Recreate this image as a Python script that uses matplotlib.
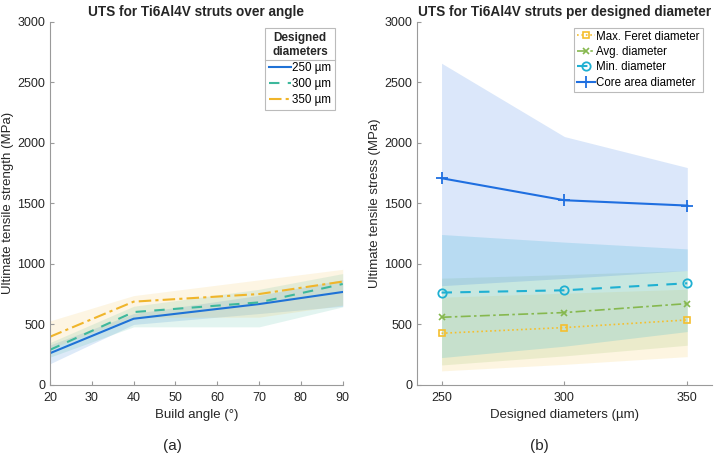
import matplotlib
matplotlib.use("Agg")
import matplotlib.pyplot as plt
from matplotlib.lines import Line2D

plt.rcParams['font.family'] = ['Liberation Sans', 'DejaVu Sans']
plt.rcParams['font.size'] = 9

# (a) UTS over build angle
angles = [20, 40, 70, 90]
d250_mean = [262, 547, 668, 768]
d250_low = [175, 500, 590, 650]
d250_high = [330, 590, 740, 870]
d300_mean = [290, 602, 682, 834]
d300_low = [230, 480, 480, 645]
d300_high = [350, 650, 790, 920]
d350_mean = [398, 688, 751, 854]
d350_low = [300, 560, 560, 660]
d350_high = [529, 738, 868, 955]

# (b) UTS per designed diameter
diameters = [250, 300, 350]
feret_mean = [427, 474, 537]
feret_low = [116, 170, 234]
feret_high = [725, 758, 791]
avg_mean = [559, 598, 672]
avg_low = [165, 240, 328]
avg_high = [882, 912, 945]
min_mean = [763, 782, 840]
min_low = [226, 320, 441]
min_high = [1243, 1180, 1124]
core_mean = [1708, 1526, 1482]
core_low = [820, 880, 945]
core_high = [2658, 2052, 1796]

txt = '#262626'
spine_c = '#9a9a9a'

fig = plt.figure(figsize=(7.14, 4.55), dpi=100)
ax1 = fig.add_axes([0.070, 0.154, 0.410, 0.798])
ax2 = fig.add_axes([0.584, 0.154, 0.413, 0.798])


def style(ax):
    for s in ['top', 'right']:
        ax.spines[s].set_visible(False)
    for s in ['left', 'bottom']:
        ax.spines[s].set_color(spine_c)
    ax.tick_params(direction='in', length=3, color=spine_c, labelcolor=txt,
                   labelsize=9)
    ax.tick_params(axis='x', pad=5)
    ax.set_ylim(0, 3000)
    ax.set_yticks(range(0, 3001, 500))


# left panel
c250, c300, c350 = '#1f72d6', '#3db89c', '#f0b52a'
ax1.fill_between(angles, d250_low, d250_high, color=c250, alpha=0.15, lw=0)
ax1.fill_between(angles, d300_low, d300_high, color=c300, alpha=0.15, lw=0)
ax1.fill_between(angles, d350_low, d350_high, color=c350, alpha=0.13, lw=0)
ax1.plot(angles, d250_mean, color=c250, lw=1.5, ls='-', label='250 µm')
ax1.plot(angles, d300_mean, color=c300, lw=1.5, ls=(0, (5, 4)), label='300 µm')
ax1.plot(angles, d350_mean, color=c350, lw=1.5, ls=(0, (6, 2, 1.5, 2)), label='350 µm')
style(ax1)
ax1.set_xlim(20, 90)
ax1.set_xticks(range(20, 91, 10))
ax1.set_xlabel('Build angle (°)', color=txt, fontsize=9.5)
ax1.set_ylabel('Ultimate tensile strength (MPa)', color=txt, fontsize=9.5,
               labelpad=2)
ax1.set_title('UTS for Ti6Al4V struts over angle', fontweight='bold',
              color=txt, fontsize=9.8, pad=4)
leg1 = ax1.legend(title='Designed\ndiameters', loc='upper right',
                  bbox_to_anchor=(0.975, 0.984), borderaxespad=0,
                  fancybox=False, edgecolor='#bbbbbb',
                  handlelength=1.9, handletextpad=0.1, borderpad=0.35,
                  labelspacing=0.35, fontsize=8.4, framealpha=1)
leg1.get_title().set_fontweight('bold')
leg1.get_title().set_fontsize(8.5)
leg1.get_title().set_color(txt)
leg1.get_title().set_multialignment('center')
leg1.get_frame().set_linewidth(0.8)

# right panel
cfer, cavg, cmin, ccore = '#f5bf2e', '#86b84e', '#1fb0d2', '#1f6fe0'
ax2.fill_between(diameters, feret_low, feret_high, color=cfer, alpha=0.14, lw=0)
ax2.fill_between(diameters, avg_low, avg_high, color=cavg, alpha=0.15, lw=0)
ax2.fill_between(diameters, min_low, min_high, color=cmin, alpha=0.18, lw=0)
ax2.fill_between(diameters, core_low, core_high, color=ccore, alpha=0.16, lw=0)
ax2.plot(diameters, feret_mean, color=cfer, lw=1.2, ls=':', marker='s', ms=5,
         mfc='none', mew=1.2, label='Max. Feret diameter')
ax2.plot(diameters, avg_mean, color=cavg, lw=1.2, ls=(0, (6, 2, 1.5, 2)), marker='x',
         ms=5, mew=1.2, label='Avg. diameter')
ax2.plot(diameters, min_mean, color=cmin, lw=1.5, ls=(0, (5, 4)), marker='o', ms=6,
         mfc='none', mew=1.3, label='Min. diameter')
ax2.plot(diameters, core_mean, color=ccore, lw=1.5, ls='-', marker='+', ms=8,
         mew=1.3, label='Core area diameter')
style(ax2)
ax2.set_xlim(240, 360)
ax2.set_xticks(diameters)
ax2.set_xlabel('Designed diameters (µm)', color=txt, fontsize=9.5)
ax2.set_ylabel('Ultimate tensile stress (MPa)', color=txt, fontsize=9.5,
               labelpad=2)
ax2.set_title('UTS for Ti6Al4V struts per designed diameter', fontweight='bold',
              color=txt, fontsize=9.8, pad=4)
leg2 = ax2.legend(loc='upper right', bbox_to_anchor=(0.969, 0.984), borderaxespad=0,
                  fancybox=False, edgecolor='#bbbbbb', handlelength=1.5,
                  handletextpad=0.15, borderpad=0.25, labelspacing=0.3,
                  fontsize=8.3, framealpha=1)
leg2.get_frame().set_linewidth(0.8)

fig.text(0.242, 0.02, '(a)', ha='center', va='center', fontsize=11, color=txt)
fig.text(0.756, 0.02, '(b)', ha='center', va='center', fontsize=11, color=txt)

# separator under the legend title, as in the original
fig.canvas.draw()
lb = leg1.get_window_extent()
tb = leg1.get_title().get_window_extent()
inv = fig.transFigure.inverted()
(x0, y0), (x1, _) = inv.transform([(lb.x0, tb.y0 - 2), (lb.x1, tb.y0 - 2)])
fig.add_artist(Line2D([x0, x1], [y0, y0], color='#bbbbbb', lw=0.8,
                      transform=fig.transFigure))

fig.savefig('out.png', dpi=100)
